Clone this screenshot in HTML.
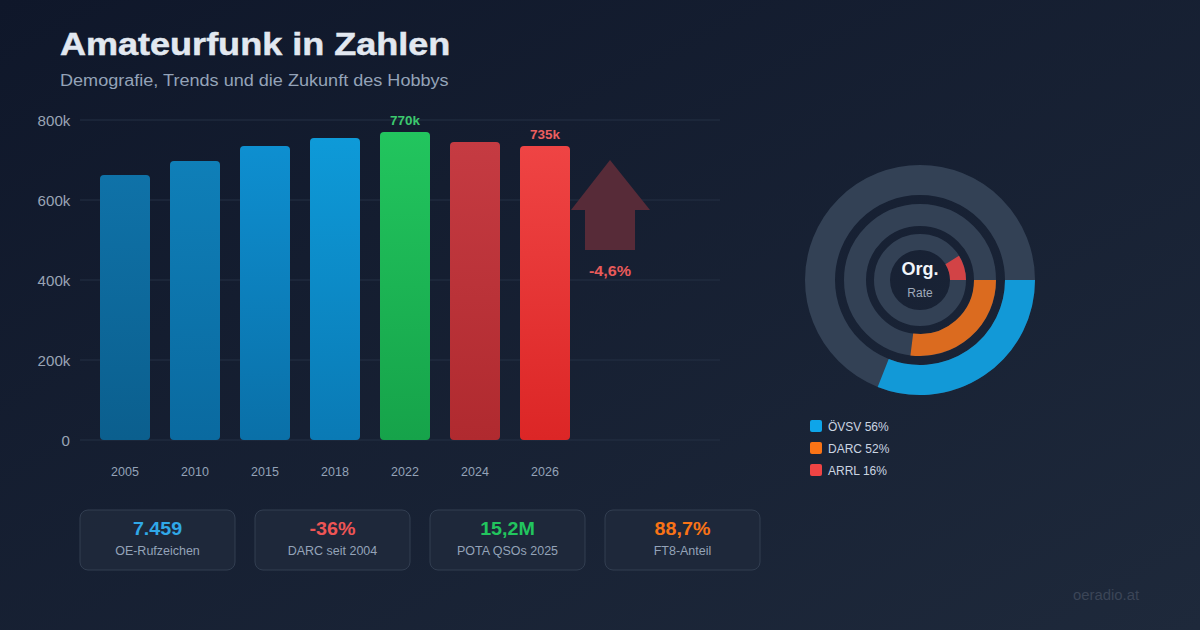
<!DOCTYPE html>
<html><head><meta charset="utf-8">
<style>
html,body{margin:0;padding:0;}
body{width:1200px;height:630px;overflow:hidden;position:relative;
background:linear-gradient(to bottom right,#0f172a 0%,#1e293b 100%);
font-family:"Liberation Sans",sans-serif;}
.t{position:absolute;white-space:nowrap;line-height:1;}
.title{left:60px;top:29px;font-size:31px;font-weight:bold;color:#e2e8f0;-webkit-text-stroke:0.5px #e2e8f0;transform-origin:0 0;transform:scaleX(1.162);}
.sub{left:60px;top:72.5px;font-size:16px;color:#94a3b8;transform-origin:0 0;transform:scaleX(1.129);}
.yl{right:1130px;font-size:14px;color:#9aa4b5;text-align:right;transform-origin:100% 0;transform:scaleX(1.08);margin-top:0.5px;}
.xl{font-size:12px;color:#94a3b8;width:60px;text-align:center;transform:scaleX(1.04);margin-top:0.5px;}
.val{font-size:12px;font-weight:bold;width:60px;text-align:center;transform:scaleX(1.12);margin-top:-0.5px;}
.card{position:absolute;top:510px;width:155px;height:60px;}
.cv{position:absolute;left:0;right:0;top:9px;text-align:center;font-size:19px;font-weight:bold;line-height:1;transform:scaleX(1.035);}
.cl{position:absolute;left:0;right:0;top:34.5px;text-align:center;font-size:12px;color:#94a3b8;line-height:1;transform:scaleX(1.04);}
.lg{position:absolute;left:810px;width:12px;height:12px;border-radius:2px;}
.lt{left:828px;font-size:12px;color:#cbd5e1;margin-top:1px;}
</style></head><body>
<div class="t title">Amateurfunk in Zahlen</div>
<div class="t sub">Demografie, Trends und die Zukunft des Hobbys</div>

<svg width="1200" height="630" style="position:absolute;left:0;top:0">
<defs>
<linearGradient id="gb1" x1="0" y1="0" x2="0" y2="1"><stop offset="0" stop-color="#0f72a8"/><stop offset="1" stop-color="#0b5f8e"/></linearGradient>
<linearGradient id="gb2" x1="0" y1="0" x2="0" y2="1"><stop offset="0" stop-color="#0f7fb8"/><stop offset="1" stop-color="#0a6aa0"/></linearGradient>
<linearGradient id="gb3" x1="0" y1="0" x2="0" y2="1"><stop offset="0" stop-color="#0e8fd0"/><stop offset="1" stop-color="#0a70a8"/></linearGradient>
<linearGradient id="gb4" x1="0" y1="0" x2="0" y2="1"><stop offset="0" stop-color="#0e9ad8"/><stop offset="1" stop-color="#0a7ab5"/></linearGradient>
<linearGradient id="gg" x1="0" y1="0" x2="0" y2="1"><stop offset="0" stop-color="#22c55e"/><stop offset="1" stop-color="#16a34a"/></linearGradient>
<linearGradient id="gr1" x1="0" y1="0" x2="0" y2="1"><stop offset="0" stop-color="#c53b42"/><stop offset="1" stop-color="#b02a2f"/></linearGradient>
<linearGradient id="gr2" x1="0" y1="0" x2="0" y2="1"><stop offset="0" stop-color="#ef4444"/><stop offset="1" stop-color="#dc2626"/></linearGradient>
</defs>
<g stroke="#243044" stroke-width="1">
<line x1="80" y1="120" x2="720" y2="120"/>
<line x1="80" y1="200" x2="720" y2="200"/>
<line x1="80" y1="280" x2="720" y2="280"/>
<line x1="80" y1="360" x2="720" y2="360"/>
<line x1="80" y1="440" x2="720" y2="440"/>
</g>
<rect x="100" y="175" width="50" height="265" rx="4" fill="url(#gb1)"/>
<rect x="170" y="161" width="50" height="279" rx="4" fill="url(#gb2)"/>
<rect x="240" y="146" width="50" height="294" rx="4" fill="url(#gb3)"/>
<rect x="310" y="138" width="50" height="302" rx="4" fill="url(#gb4)"/>
<rect x="380" y="132" width="50" height="308" rx="4" fill="url(#gg)"/>
<rect x="450" y="142" width="50" height="298" rx="4" fill="url(#gr1)"/>
<rect x="520" y="146" width="50" height="294" rx="4" fill="url(#gr2)"/>
<path d="M610 160 L650 210 L635 210 L635 250 L585 250 L585 210 L571 210 Z" fill="#572b38"/>

<g fill="none">
<circle cx="920" cy="280" r="100" stroke="#334155" stroke-width="30"/>
<circle cx="920" cy="280" r="65" stroke="#334155" stroke-width="22"/>
<circle cx="920" cy="280" r="38" stroke="#334155" stroke-width="16"/>
<path d="M1020 280 A100 100 0 0 1 883.2 373" stroke="#0ea5e9" stroke-width="30" stroke-opacity="0.88"/>
<path d="M985 280 A65 65 0 0 1 911.8 344.5" stroke="#f97316" stroke-width="22" stroke-opacity="0.85"/>
<path d="M958 280 A38 38 0 0 0 952.2 259.9" stroke="#ef4444" stroke-width="16" stroke-opacity="0.85"/>
</g>
<g fill="#1f293b" fill-opacity="0.9" stroke="#323e51" stroke-width="1">
<rect x="80" y="510" width="155" height="60" rx="8"/>
<rect x="255" y="510" width="155" height="60" rx="8"/>
<rect x="430" y="510" width="155" height="60" rx="8"/>
<rect x="605" y="510" width="155" height="60" rx="8"/>
</g>
</svg>

<div class="t yl" style="top:113px">800k</div>
<div class="t yl" style="top:193px">600k</div>
<div class="t yl" style="top:273px">400k</div>
<div class="t yl" style="top:353px">200k</div>
<div class="t yl" style="top:433px">0</div>

<div class="t xl" style="left:95px;top:465px">2005</div>
<div class="t xl" style="left:165px;top:465px">2010</div>
<div class="t xl" style="left:235px;top:465px">2015</div>
<div class="t xl" style="left:305px;top:465px">2018</div>
<div class="t xl" style="left:375px;top:465px">2022</div>
<div class="t xl" style="left:445px;top:465px">2024</div>
<div class="t xl" style="left:515px;top:465px">2026</div>

<div class="t val" style="left:375px;top:115px;color:#3cc96e">770k</div>
<div class="t val" style="left:515px;top:129px;color:#ec5f5f">735k</div>
<div class="t" style="left:580px;top:264px;width:60px;text-align:center;font-size:14px;font-weight:bold;color:#e85a5a;transform:scaleX(1.15)">-4,6%</div>

<div class="t" style="left:870px;top:260px;width:100px;text-align:center;font-size:18px;font-weight:bold;color:#f1f5f9">Org.</div>
<div class="t" style="left:870px;top:287px;width:100px;text-align:center;font-size:12px;color:#a0aabb">Rate</div>

<div class="lg" style="top:420px;background:#0ea5e9"></div>
<div class="lg" style="top:442px;background:#f97316"></div>
<div class="lg" style="top:464px;background:#ef4444"></div>
<div class="t lt" style="top:420px">ÖVSV 56%</div>
<div class="t lt" style="top:442px">DARC 52%</div>
<div class="t lt" style="top:464px">ARRL 16%</div>

<div class="card" style="left:80px"><div class="cv" style="color:#30a8e8">7.459</div><div class="cl">OE-Rufzeichen</div></div>
<div class="card" style="left:255px"><div class="cv" style="color:#ee5555">-36%</div><div class="cl">DARC seit 2004</div></div>
<div class="card" style="left:430px"><div class="cv" style="color:#22c55e">15,2M</div><div class="cl">POTA QSOs 2025</div></div>
<div class="card" style="left:605px"><div class="cv" style="color:#f97316">88,7%</div><div class="cl">FT8-Anteil</div></div>

<div class="t" style="left:1073px;top:588px;font-size:14px;color:#3b4557;transform-origin:0 0;transform:scaleX(1.06)">oeradio.at</div>
</body></html>
